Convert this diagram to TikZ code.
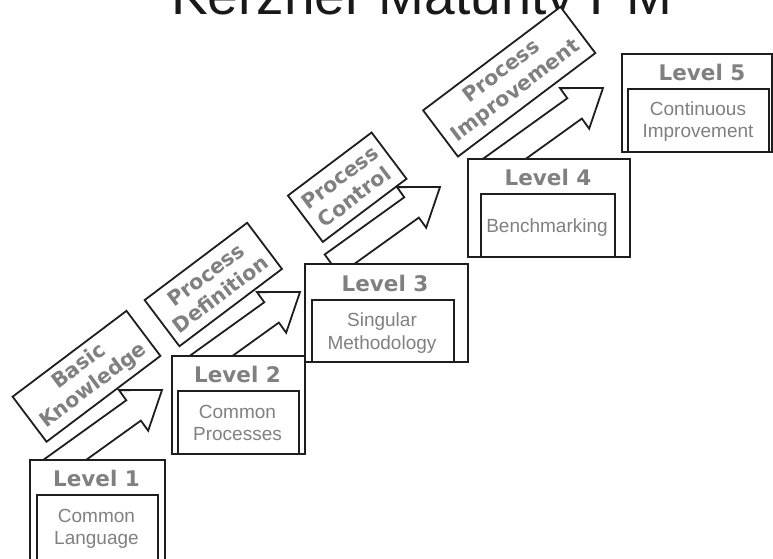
\documentclass[tikz,border=0pt]{standalone}
\usepackage{fontspec}
\setmainfont{Liberation Sans}
\newfontfamily\vfont{DejaVu Sans}
\definecolor{txtgray}{RGB}{128,128,128}
\definecolor{ln}{RGB}{30,30,30}
\newcommand{\stepArrowShape}[3]{%
  \begin{scope}[shift={(#1,-#2)},rotate=35.7]
    \draw[arrowline] (0,0)--(-35,25)--(-35,12.5)--(-#3,12.5)--(-#3,-12.5)--(-35,-12.5)--(-35,-25)--cycle;
  \end{scope}}
\begin{document}
\begin{tikzpicture}[x=1pt,y=1pt,
  outline/.style={draw=ln, line width=1.8pt, fill=white},
  lvbox/.style={outline, inner sep=0pt, anchor=north west},
  lbl/.style={outline, inner sep=0pt, rotate=37, font=\vfont\bfseries\fontsize{20.5}{24}\selectfont, text=txtgray, align=center},
  lvtitle/.style={font=\vfont\bfseries\fontsize{21.5}{24}\selectfont, text=txtgray, anchor=base, inner sep=0pt},
  lvtext/.style={font=\fontsize{19}{21.7}\selectfont, text=txtgray, anchor=base, inner sep=0pt},
  arrowline/.style={draw=ln, line width=1.8pt, fill=white, line join=miter}
]
\path[use as bounding box] (0,0) rectangle (773,-558);
\clip (0,0) rectangle (773,-558);

% title (cut at the top)
\node[anchor=base, inner sep=0pt, font=\fontsize{55}{60}\selectfont, text=black!90] (title) at (421.7,-14) {Kerzner Maturity PM};

% block arrows
\stepArrowShape{162}{390}{140}
\stepArrowShape{300}{292}{130}
\stepArrowShape{440}{187}{133}
\stepArrowShape{603}{88}{142}

% rotated labels
\node[lbl, minimum width=142.6, minimum height=56.4] (k1) at (86.5,-376.3) {Basic\\Knowledge};
\node[lbl, minimum width=128.4, minimum height=57.8] (k2) at (213.3,-284.5) {Process\\Definition};
\node[lbl, minimum width=104.8, minimum height=58] (k3) at (347.2,-187.2) {Process\\Control};
\node[lbl, minimum width=172, minimum height=57.9] (k4) at (509.2,-81.7) {Process\\Improvement};

% level boxes
\node[lvbox, minimum width=135, minimum height=110] (L1) at (29,-459) {};
\node[lvbox, minimum width=121, minimum height=100] (L1in) at (36,-494) {};
\node[lvbox, minimum width=133, minimum height=98] (L2) at (171,-355) {};
\node[lvbox, minimum width=121, minimum height=63] (L2in) at (177,-390) {};
\node[lvbox, minimum width=163, minimum height=98] (L3) at (304,-263) {};
\node[lvbox, minimum width=142, minimum height=62] (L3in) at (311,-299) {};
\node[lvbox, minimum width=162, minimum height=98] (L4) at (467,-158) {};
\node[lvbox, minimum width=134, minimum height=63] (L4in) at (480,-193) {};
\node[lvbox, minimum width=150, minimum height=98] (L5) at (621,-53) {};
\node[lvbox, minimum width=141, minimum height=63] (L5in) at (627,-88) {};

% texts
\node[lvtitle] (t1) at (96.5,-486) {Level 1};
\node[lvtext] (a1) at (96.5,-522.7) {Common};
\node[lvtext] (b1) at (96.5,-544.2) {Language};
\node[lvtitle] (t2) at (237.5,-382.7) {Level 2};
\node[lvtext] (a2) at (237.5,-418.3) {Common};
\node[lvtext] (b2) at (237.5,-440) {Processes};
\node[lvtitle] (t3) at (385,-291) {Level 3};
\node[lvtext] (a3) at (382,-326) {Singular};
\node[lvtext] (b3) at (382,-349) {Methodology};
\node[lvtitle] (t4) at (548,-185) {Level 4};
\node[lvtext] (a4) at (547,-232.7) {Benchmarking};
\node[lvtitle] (t5) at (702,-80.7) {Level 5};
\node[lvtext] (a5) at (698,-115) {Continuous};
\node[lvtext] (b5) at (698,-137.3) {Improvement};
\end{tikzpicture}
\end{document}
